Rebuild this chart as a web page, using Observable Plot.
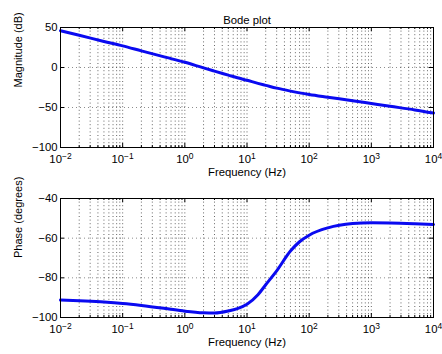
<!DOCTYPE html>
<html><head><meta charset="utf-8">
<script src="https://cdn.jsdelivr.net/npm/d3@7"></script>
<script src="https://cdn.jsdelivr.net/npm/@observablehq/plot@0.6"></script>
<style>
html,body{margin:0;padding:0;background:#fff;}
#chart{width:442px;height:354px;overflow:hidden;}
svg{display:block;overflow:visible;}
</style></head><body><div id="chart"></div>
<script>
const title = "Bode plot";
const xLabel = "Frequency (Hz)";
const magLabel = "Magnitude (dB)";
const phaseLabel = "Phase (degrees)";

const freq      = [0.01, 0.02, 0.05, 0.1, 0.2, 0.5, 1, 2, 3, 5, 7, 10, 15, 20, 30, 50, 70, 100, 200, 500, 1000, 2000, 5000, 10000];
const magnitude = [46, 40.3, 32.6, 27, 20.8, 12.7, 6.5, -0.5, -4.5, -9.5, -12.8, -16, -19.8, -22.3, -25.8, -29.5, -31.7, -33.8, -37.2, -41.5, -45, -48.5, -53, -57];
const phase     = [-91.2, -91.6, -92.2, -92.9, -93.9, -95.5, -96.8, -97.6, -97.7, -96.7, -95.5, -93.3, -88.5, -83.5, -76.5, -66.5, -61.8, -58.5, -54.8, -52.6, -52.2, -52.3, -52.7, -53.1];

const decadeTicks = [0.01, 0.1, 1, 10, 100, 1000, 10000];
const decadeExponents = ["\u22122", "\u22121", "0", "1", "2", "3", "4"];
const magTicks = [-100, -50, 0, 50];
const phaseTicks = [-100, -80, -60, -40];

const minorTicks = [];
decadeTicks.slice(0, -1).forEach(d => { for (let m = 2; m <= 9; m++) minorTicks.push(d * m); });
const innerDecades = decadeTicks.slice(1, -1);

const font = "'Liberation Sans', Arial, Helvetica, sans-serif";
const W = 442;
const FS = 11.3;

function panel({ys, yDomain, yTicks, yLabel, heading, mt, mb, h}) {
  const data = freq.map((f, i) => ({f, v: ys[i]}));
  const fh = h - mt - mb;
  const fw = W - 60 - 9;
  const grid = {stroke: "#000", strokeOpacity: 0.6, strokeDasharray: "1,2.6", strokeWidth: 1};
  const marks = [
    Plot.gridX(minorTicks.concat(innerDecades), grid),
    Plot.gridY(yTicks.slice(1, -1), {stroke: "#000", strokeOpacity: 0.45, strokeDasharray: "1,3"}),
    Plot.line(data, {x: "f", y: "v", stroke: "#0a0af0", strokeWidth: 3, curve: "monotone-x"}),
    Plot.frame({stroke: "#000", strokeWidth: 1}),
    // inward tick marks (MATLAB style)
    Plot.tickX(decadeTicks, {x: d => d, insetTop: fh - 4, stroke: "#000"}),
    Plot.tickX(decadeTicks, {x: d => d, insetBottom: fh - 4, stroke: "#000"}),
    Plot.tickX(minorTicks, {x: d => d, insetTop: fh - 2, stroke: "#000"}),
    Plot.tickX(minorTicks, {x: d => d, insetBottom: fh - 2, stroke: "#000"}),
    Plot.tickY(yTicks, {y: d => d, insetRight: fw - 4, stroke: "#000"}),
    Plot.tickY(yTicks, {y: d => d, insetLeft: fw - 4, stroke: "#000"}),
    Plot.axisX(decadeTicks, {tickSize: 0, tickPadding: 7, tickFormat: d => "10^" + decadeExponents[decadeTicks.indexOf(d)], label: null, fontSize: FS}),
    Plot.axisY(yTicks, {tickSize: 0, tickPadding: 3, label: null, fontSize: FS}),
    Plot.text([xLabel], {text: d => d, frameAnchor: "bottom", dy: 28, fontSize: FS}),
    Plot.text([yLabel], {text: d => d, frameAnchor: "left", dx: -42, rotate: -90, fontSize: 11})
  ];
  if (heading) marks.push(Plot.text([heading], {text: d => d, frameAnchor: "top", dy: -12, fontSize: FS}));
  const svg = Plot.plot({
    width: W, height: h,
    marginLeft: 60, marginRight: 9, marginTop: mt, marginBottom: mb,
    style: {fontFamily: font, fontSize: FS + "px", color: "#000", background: "#fff", overflow: "visible"},
    x: {type: "log", domain: [0.01, 10000]},
    y: {domain: yDomain},
    marks
  });
  // render 10^n labels with a raised exponent
  svg.querySelectorAll('g[aria-label="x-axis tick label"] text').forEach(t => {
    const s = t.textContent;
    if (!s.includes("^")) return;
    const [base, exp] = s.split("^");
    t.textContent = base;
    const ts = document.createElementNS("http://www.w3.org/2000/svg", "tspan");
    ts.setAttribute("dy", "-0.45em");
    ts.setAttribute("font-size", "8.5");
    ts.textContent = exp;
    t.appendChild(ts);
  });
  return svg;
}

const chart = document.getElementById("chart");
chart.appendChild(panel({ys: magnitude, yDomain: [-100, 50], yTicks: magTicks, yLabel: magLabel, heading: title, mt: 27, mb: 30, h: 177}));
chart.appendChild(panel({ys: phase, yDomain: [-100, -40], yTicks: phaseTicks, yLabel: phaseLabel, heading: null, mt: 21, mb: 37, h: 177}));
</script>
</body></html>
